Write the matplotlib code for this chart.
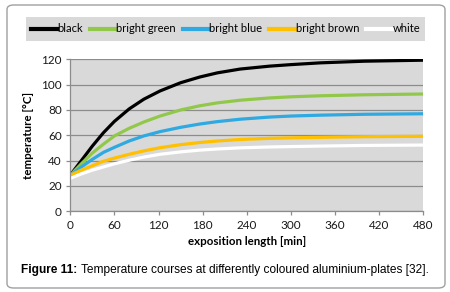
import matplotlib
matplotlib.use("Agg")
import matplotlib.pyplot as plt
from matplotlib.patches import FancyBboxPatch, Rectangle
from matplotlib.lines import Line2D

t = [0, 15, 30, 45, 60, 80, 100, 122, 150, 176, 200, 231, 271, 300, 340, 400, 480]
black = [28.5, 40, 51.5, 62, 71, 80.8, 88.5, 95, 101.5, 106, 109.3, 112.3, 114.6, 115.8, 117.2, 118.5, 119.3]
bright_green = [28.5, 37.5, 46, 53, 59.5, 65.5, 70.5, 75.2, 80, 83.3, 85.6, 87.7, 89.5, 90.4, 91.2, 92, 92.6]
bright_blue = [28.5, 35, 41, 46.5, 50.5, 55.5, 59.5, 62.9, 66.3, 68.9, 70.8, 72.7, 74.4, 75.2, 75.9, 76.6, 77]
bright_brown = [28.5, 32.5, 36, 39.5, 42, 45, 47.7, 50.2, 52.6, 54.3, 55.5, 56.7, 57.6, 58, 58.4, 58.9, 59.2]
white = [26, 29.5, 32.5, 35, 37.5, 40.3, 42.8, 45, 46.9, 48.3, 49.2, 50.1, 50.8, 51.1, 51.5, 52, 52.3]

series = [
    ("black", black, "#000000"),
    ("bright green", bright_green, "#92C84A"),
    ("bright blue", bright_blue, "#2EA9E1"),
    ("bright brown", bright_brown, "#FFC000"),
    ("white", white, "#FFFFFF"),
]
xticks = [0, 60, 120, 180, 240, 300, 360, 420, 480]
yticks = [0, 20, 40, 60, 80, 100, 120]

W, H = 450, 292
fig = plt.figure(figsize=(4.5, 2.92), dpi=100)

frame = FancyBboxPatch((7 / W, 4 / H), 438 / W, 283 / H,
                       boxstyle="round,pad=0,rounding_size=0.015",
                       transform=fig.transFigure, facecolor="white",
                       edgecolor="#A0A0A0", linewidth=1.0, zorder=-2)
fig.patches.append(frame)

leg_bg = Rectangle((26 / W, 1 - 41 / H), 399 / W, 24 / H, transform=fig.transFigure,
                   facecolor="#D9D9D9", edgecolor="none", zorder=-1)
fig.patches.append(leg_bg)

left, right, top, bottom = 70.3, 423.3, 59.3, 211.3
ax = fig.add_axes([left / W, 1 - bottom / H, (right - left) / W, (bottom - top) / H])
ax.set_facecolor("#D9D9D9")
for name, vals, col in series:
    ax.plot(t, vals, color=col, linewidth=2.3, solid_capstyle="butt",
            solid_joinstyle="round")

ax.set_xlim(0, 480)
ax.set_ylim(0, 120)
ax.set_xticks(xticks)
ax.set_yticks(yticks)
ax.grid(axis="y", color="#8C8C8C", linewidth=0.9)
ax.set_axisbelow(True)
for s in ["top", "right"]:
    ax.spines[s].set_visible(False)
for s in ["left", "bottom"]:
    ax.spines[s].set_color("#8C8C8C")
    ax.spines[s].set_linewidth(0.9)
ax.tick_params(axis="both", colors="#8C8C8C", labelcolor="#1a1a1a", length=3,
               width=0.9, pad=3)
for lab in ax.get_xticklabels() + ax.get_yticklabels():
    lab.set_family("Lato")
    lab.set_fontsize(8.5)

ax.set_xlabel("exposition length [min]", fontsize=8.3, fontweight="bold",
              family="Lato", labelpad=4)
ax.set_ylabel("temperature [°C]", fontsize=8.3, fontweight="bold",
              family="Lato", labelpad=5)

handles = [Line2D([0], [0], color=c, linewidth=3) for _, _, c in series]
labels = [n for n, _, _ in series]
leg = fig.legend(handles, labels, loc="center", bbox_to_anchor=(225.5 / W, 1 - 29 / H),
                 ncol=5, frameon=False, handlelength=2.4, handletextpad=0.0,
                 columnspacing=0.6, prop={"family": "Lato", "size": 8})

fig.canvas.draw()
renderer = fig.canvas.get_renderer()
cap_y = 1 - 270 / H
t1 = fig.text(0, cap_y, "Figure 11:", ha="left", va="center", fontsize=8.6,
              family="Liberation Sans", fontweight="bold")
t2 = fig.text(0, cap_y, " Temperature courses at differently coloured aluminium-plates [32].",
              ha="left", va="center", fontsize=8.6, family="Liberation Sans")
w1 = t1.get_window_extent(renderer).width
w2 = t2.get_window_extent(renderer).width
x0 = (W - (w1 + w2)) / 2
t1.set_x(x0 / W)
t2.set_x((x0 + w1) / W)

fig.savefig("out.png", dpi=100)
